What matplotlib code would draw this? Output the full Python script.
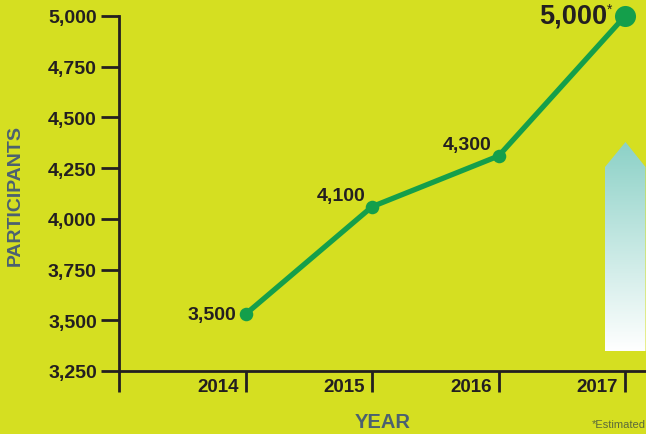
import matplotlib.pyplot as plt
import numpy as np
from matplotlib.path import Path
from matplotlib.patches import PathPatch

years = [2014, 2015, 2016, 2017]
participants = [3530, 4060, 4310, 5000]
point_labels = ["3,500", "4,100", "4,300", "5,000"]
yticks = [3250, 3500, 3750, 4000, 4250, 4500, 4750, 5000]

bg = "#d5df21"
green = "#149f4b"
dark = "#231f20"
slate = "#4b6170"

plt.rcParams['font.family'] = ['Liberation Sans', 'DejaVu Sans']

fig = plt.figure(figsize=(6.46, 4.35), dpi=100, facecolor=bg)

# gradient arrow drawn in a background axes
x0, x1, xt = 605/646, 645.5/646, 625.5/646
yb, ys, yt = 1-352/435, 1-168/435, 1-143/435
verts = [(x0, yb), (x0, ys), (xt, yt), (x1, ys), (x1, yb), (x0, yb)]
grad = np.linspace(0, 1, 256).reshape(-1, 1)
c_top = np.array([0.55, 0.82, 0.78])
c_bot = np.array([1.0, 1.0, 1.0])
img = c_bot[None, None, :] * (1 - grad[:, :, None]) + c_top[None, None, :] * grad[:, :, None]
bgax = fig.add_axes([0, 0, 1, 1], zorder=0)
bgax.set_axis_off()
bgax.set_xlim(0, 1)
bgax.set_ylim(0, 1)
gi = bgax.imshow(img, extent=[x0, x1, yb, yt], origin="lower", aspect="auto")
gi.set_clip_path(PathPatch(Path(verts), transform=bgax.transData))

ax = fig.add_axes([119/646, 1-372/435, 1-119/646, (372-17)/435], zorder=1)
ax.patch.set_alpha(0)
ax.set_xlim(2013, 2017.165)
ax.set_ylim(3250, 5000)

for s in ["top", "right"]:
    ax.spines[s].set_visible(False)
for s in ["left", "bottom"]:
    ax.spines[s].set_color(dark)
    ax.spines[s].set_linewidth(2)

ax.set_yticks(yticks)
ax.set_yticklabels([f"{v:,}" for v in yticks], fontsize=14, fontweight="bold", color=dark)
ax.tick_params(axis="y", direction="out", length=13, width=2, color=dark, pad=3)

ax.set_xticks([2013] + years)
ax.set_xticklabels([])
ax.tick_params(axis="x", direction="out", length=15, width=2, color=dark)
for y in years:
    ax.annotate(str(y), xy=(y, 3250), xytext=(-5, -11), textcoords="offset points",
                ha="right", va="center", fontsize=13.5, fontweight="bold", color=dark,
                annotation_clip=False)

ax.plot(years, participants, color=green, linewidth=3.8, solid_capstyle="round", clip_on=False, zorder=3)
ax.scatter(years[:3], participants[:3], s=95, color=green, zorder=4, clip_on=False, linewidths=0)
ax.scatter(years[3:], participants[3:], s=230, color=green, zorder=4, clip_on=False, linewidths=0)

ax.annotate(point_labels[0], xy=(years[0], participants[0]), xytext=(-7, 0), textcoords="offset points",
            ha="right", va="center", fontsize=14, fontweight="bold", color=dark)
ax.annotate(point_labels[1], xy=(years[1], participants[1]), xytext=(-5, 8), textcoords="offset points",
            ha="right", va="center", fontsize=14, fontweight="bold", color=dark)
ax.annotate(point_labels[2], xy=(years[2], participants[2]), xytext=(-5, 8), textcoords="offset points",
            ha="right", va="center", fontsize=14, fontweight="bold", color=dark)
ax.annotate(point_labels[3], xy=(years[3], participants[3]), xytext=(-13, 0), textcoords="offset points",
            ha="right", va="center", fontsize=19.5, fontweight="bold", color=dark, annotation_clip=False)
ax.annotate("*", xy=(years[3], participants[3]), xytext=(-13, 5), textcoords="offset points",
            ha="left", va="center", fontsize=10, color=dark, annotation_clip=False)

fig.text(15/646, 1-195/435, "PARTICIPANTS", rotation=90, ha="center", va="center",
         fontsize=14, fontweight="bold", color=slate)
fig.text(383/646, 1-423/435, "YEAR", ha="center", va="center",
         fontsize=14.5, fontweight="bold", color=slate)
fig.text(1.0, 1-425/435, "*Estimated", ha="right", va="center", fontsize=8, color="#5b6a3a")

fig.savefig("out.png", dpi=100, facecolor=bg)
